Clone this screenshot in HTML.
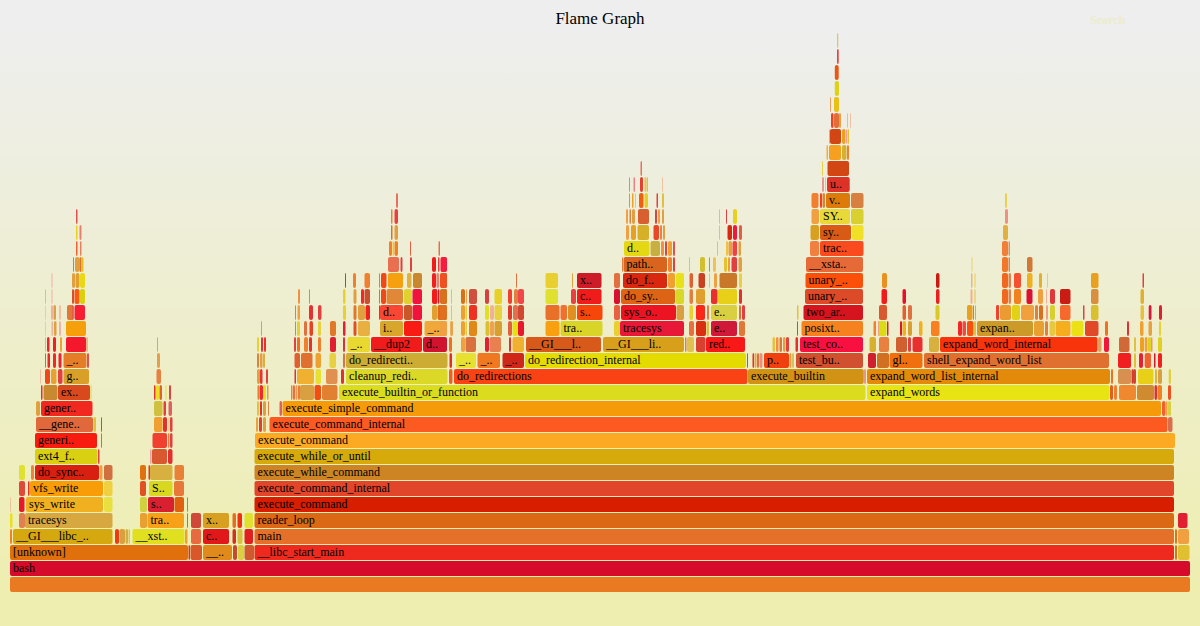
<!DOCTYPE html><html><head><meta charset="utf-8"><style>
html,body{margin:0;padding:0;width:1200px;height:626px;overflow:hidden;background:#eeeeee}
svg{display:block}
text{font-family:"Liberation Serif",serif;font-size:12px;fill:#000}
</style></head><body>
<svg width="1200" height="626" viewBox="0 0 1200 626">
<defs><linearGradient id="bg" y1="0" y2="1" x1="0" x2="0"><stop stop-color="#eeeeee" offset="5%"/><stop stop-color="#eeeeb0" offset="95%"/></linearGradient></defs>
<rect x="0" y="0" width="1200" height="626" fill="url(#bg)"/>
<text x="600" y="24" text-anchor="middle" style="font-size:17px">Flame Graph</text>
<text x="1090" y="24" style="fill:#ececcc;font-size:12px;font-weight:bold">Search</text>

<rect x="10" y="577" width="1180.00" height="15" rx="2" fill="#ea7a22"/>
<rect x="10" y="561" width="1180.00" height="15" rx="2" fill="#d60a2a"/>
<text x="13" y="571.5">bash</text>
<rect x="10" y="545" width="178.00" height="15" rx="2" fill="#e0700c"/>
<text x="13" y="555.5">[unknown]</text>
<rect x="188.5" y="545" width="1.50" height="15" rx="2" fill="#e03020"/>
<rect x="190.5" y="545" width="11.50" height="15" rx="2" fill="#d8582c"/>
<rect x="203" y="545" width="29.00" height="15" rx="2" fill="#e08a1c"/>
<text x="206" y="555.5">__..</text>
<rect x="233" y="545" width="4.00" height="15" rx="2" fill="#c84830"/>
<rect x="238" y="545" width="6.00" height="15" rx="2" fill="#d8d040"/>
<rect x="244.5" y="545" width="9.50" height="15" rx="2" fill="#d05a30"/>
<rect x="254.5" y="545" width="919.50" height="15" rx="2" fill="#ee2a1e"/>
<text x="257.5" y="555.5">__libc_start_main</text>
<rect x="1175" y="545" width="2.00" height="15" rx="2" fill="#e07020"/>
<rect x="1178" y="545" width="11.50" height="15" rx="2" fill="#e0c030"/>
<rect x="10" y="529" width="2.00" height="15" rx="2" fill="#f08020"/>
<rect x="13" y="529" width="99.50" height="15" rx="2" fill="#d4a80e"/>
<text x="16" y="539.5">__GI___libc_..</text>
<rect x="115" y="529" width="4.00" height="15" rx="2" fill="#f03a10"/>
<rect x="119.5" y="529" width="5.50" height="15" rx="2" fill="#d8a040"/>
<rect x="125.5" y="529" width="2.50" height="15" rx="2" fill="#d0b040"/>
<rect x="128.5" y="529" width="1.50" height="15" rx="2" fill="#e0c050"/>
<rect x="132.5" y="529" width="52.00" height="15" rx="2" fill="#e0e020"/>
<text x="135.5" y="539.5">__xst..</text>
<rect x="185" y="529" width="2.50" height="15" rx="2" fill="#f0a030"/>
<rect x="191" y="529" width="10.00" height="15" rx="2" fill="#e86a40"/>
<rect x="203" y="529" width="26.00" height="15" rx="2" fill="#e0181a"/>
<text x="206" y="539.5">c..</text>
<rect x="232.5" y="529" width="3.50" height="15" rx="2" fill="#d03020"/>
<rect x="237.5" y="529" width="5.00" height="15" rx="2" fill="#d8c040"/>
<rect x="244.5" y="529" width="8.50" height="15" rx="2" fill="#e02020"/>
<rect x="254.5" y="529" width="919.50" height="15" rx="2" fill="#e4702a"/>
<text x="257.5" y="539.5">main</text>
<rect x="1175" y="529" width="2.00" height="15" rx="2" fill="#e07020"/>
<rect x="1178" y="529" width="11.00" height="15" rx="2" fill="#f0a040"/>
<rect x="10" y="513" width="2.50" height="15" rx="2" fill="#e8e020"/>
<rect x="19" y="513" width="6.00" height="15" rx="2" fill="#e08050"/>
<rect x="25" y="513" width="87.50" height="15" rx="2" fill="#d8a840"/>
<text x="28" y="523.5">tracesys</text>
<rect x="140" y="513" width="7.00" height="15" rx="2" fill="#e8a030"/>
<rect x="147.5" y="513" width="36.50" height="15" rx="2" fill="#f8a018"/>
<text x="150.5" y="523.5">tra..</text>
<rect x="187" y="513" width="1.00" height="15" rx="2" fill="#e06040"/>
<rect x="191" y="513" width="10.00" height="15" rx="2" fill="#d04838"/>
<rect x="203" y="513" width="26.00" height="15" rx="2" fill="#d8a020"/>
<text x="206" y="523.5">x..</text>
<rect x="232.5" y="513" width="3.50" height="15" rx="2" fill="#e07020"/>
<rect x="237.5" y="513" width="4.50" height="15" rx="2" fill="#f03010"/>
<rect x="244.5" y="513" width="8.50" height="15" rx="2" fill="#e0e030"/>
<rect x="254.5" y="513" width="919.50" height="15" rx="2" fill="#da6814"/>
<text x="257.5" y="523.5">reader_loop</text>
<rect x="1178" y="513" width="9.50" height="15" rx="2" fill="#e02030"/>
<rect x="10" y="497" width="1.00" height="15" rx="2" fill="#f0c0a0"/>
<rect x="19" y="497" width="5.50" height="15" rx="2" fill="#e81828"/>
<rect x="26" y="497" width="77.00" height="15" rx="2" fill="#f0b020"/>
<text x="29" y="507.5">sys_write</text>
<rect x="104" y="497" width="8.50" height="15" rx="2" fill="#e8e040"/>
<rect x="140" y="497" width="7.00" height="15" rx="2" fill="#d0d040"/>
<rect x="148" y="497" width="26.00" height="15" rx="2" fill="#d82030"/>
<text x="151" y="507.5">s..</text>
<rect x="174.5" y="497" width="9.50" height="15" rx="2" fill="#e06010"/>
<rect x="187" y="497" width="1.00" height="15" rx="2" fill="#f06060"/>
<rect x="254.5" y="497" width="919.50" height="15" rx="2" fill="#d81e00"/>
<text x="257.5" y="507.5">execute_command</text>
<rect x="19" y="481" width="6.00" height="15" rx="2" fill="#e04838"/>
<rect x="28" y="481" width="1.50" height="15" rx="2" fill="#e03030"/>
<rect x="30" y="481" width="73.00" height="15" rx="2" fill="#f89c08"/>
<text x="33" y="491.5">vfs_write</text>
<rect x="104" y="481" width="8.50" height="15" rx="2" fill="#f0d040"/>
<rect x="140" y="481" width="6.00" height="15" rx="2" fill="#e05020"/>
<rect x="149" y="481" width="23.50" height="15" rx="2" fill="#d8d820"/>
<text x="152" y="491.5">S..</text>
<rect x="174" y="481" width="10.00" height="15" rx="2" fill="#e87838"/>
<rect x="254.5" y="481" width="919.50" height="15" rx="2" fill="#e2462a"/>
<text x="257.5" y="491.5">execute_command_internal</text>
<rect x="19" y="465" width="6.00" height="15" rx="2" fill="#e0e030"/>
<rect x="31" y="465" width="3.00" height="15" rx="2" fill="#f08040"/>
<rect x="35" y="465" width="64.00" height="15" rx="2" fill="#d82010"/>
<text x="38" y="475.5">do_sync..</text>
<rect x="99.5" y="465" width="3.00" height="15" rx="2" fill="#f0a040"/>
<rect x="104" y="465" width="8.50" height="15" rx="2" fill="#d07040"/>
<rect x="140" y="465" width="6.00" height="15" rx="2" fill="#e07010"/>
<rect x="148.5" y="465" width="1.50" height="15" rx="2" fill="#e03030"/>
<rect x="150" y="465" width="22.50" height="15" rx="2" fill="#d8b040"/>
<rect x="174.5" y="465" width="9.50" height="15" rx="2" fill="#e88038"/>
<rect x="254.5" y="465" width="919.50" height="15" rx="2" fill="#cd8524"/>
<text x="257.5" y="475.5">execute_while_command</text>
<rect x="35" y="449" width="62.50" height="15" rx="2" fill="#d8d010"/>
<text x="38" y="459.5">ext4_f..</text>
<rect x="98" y="449" width="1.50" height="15" rx="2" fill="#e04040"/>
<rect x="150" y="449" width="1.50" height="15" rx="2" fill="#f0a0a0"/>
<rect x="152" y="449" width="15.00" height="15" rx="2" fill="#d85830"/>
<rect x="168" y="449" width="4.50" height="15" rx="2" fill="#e03030"/>
<rect x="254.5" y="449" width="919.50" height="15" rx="2" fill="#d5aa0a"/>
<text x="257.5" y="459.5">execute_while_or_until</text>
<rect x="35" y="433" width="62.00" height="15" rx="2" fill="#f81c10"/>
<text x="38" y="443.5">generi..</text>
<rect x="101" y="433" width="1.00" height="15" rx="2" fill="#e06060"/>
<rect x="152.5" y="433" width="14.50" height="15" rx="2" fill="#f04030"/>
<rect x="168" y="433" width="1.50" height="15" rx="2" fill="#e08040"/>
<rect x="170" y="433" width="2.50" height="15" rx="2" fill="#e04040"/>
<rect x="255" y="433" width="920.00" height="15" rx="2" fill="#fcaa24"/>
<text x="258" y="443.5">execute_command</text>
<rect x="36" y="417" width="57.00" height="15" rx="2" fill="#e0683a"/>
<text x="39" y="427.5">__gene..</text>
<rect x="93.5" y="417" width="2.50" height="15" rx="2" fill="#e0c040"/>
<rect x="101" y="417" width="1.00" height="15" rx="2" fill="#e04040"/>
<rect x="154" y="417" width="8.50" height="15" rx="2" fill="#f0a030"/>
<rect x="163" y="417" width="4.00" height="15" rx="2" fill="#e03030"/>
<rect x="168.5" y="417" width="1.00" height="15" rx="2" fill="#e0c060"/>
<rect x="170" y="417" width="2.50" height="15" rx="2" fill="#e04040"/>
<rect x="256" y="417" width="2.00" height="15" rx="2" fill="#e8a040"/>
<rect x="259" y="417" width="3.00" height="15" rx="2" fill="#e04030"/>
<rect x="263" y="417" width="3.00" height="15" rx="2" fill="#e0a040"/>
<rect x="269.5" y="417" width="898.00" height="15" rx="2" fill="#fd5a22"/>
<text x="272.5" y="427.5">execute_command_internal</text>
<rect x="1168" y="417" width="4.50" height="15" rx="2" fill="#d87050"/>
<rect x="36" y="401" width="4.00" height="15" rx="2" fill="#e0a040"/>
<rect x="41" y="401" width="51.50" height="15" rx="2" fill="#f02820"/>
<text x="44" y="411.5">gener..</text>
<rect x="154" y="401" width="8.50" height="15" rx="2" fill="#d0c040"/>
<rect x="163.5" y="401" width="2.50" height="15" rx="2" fill="#e04040"/>
<rect x="168.5" y="401" width="3.50" height="15" rx="2" fill="#e06060"/>
<rect x="257" y="401" width="2.00" height="15" rx="2" fill="#e8c040"/>
<rect x="260" y="401" width="2.00" height="15" rx="2" fill="#e03030"/>
<rect x="263" y="401" width="3.00" height="15" rx="2" fill="#d8a040"/>
<rect x="268" y="401" width="1.00" height="15" rx="2" fill="#e08040"/>
<rect x="279.5" y="401" width="2.50" height="15" rx="2" fill="#e06060"/>
<rect x="282.5" y="401" width="878.50" height="15" rx="2" fill="#f59b0a"/>
<text x="285.5" y="411.5">execute_simple_command</text>
<rect x="1162" y="401" width="3.50" height="15" rx="2" fill="#f06030"/>
<rect x="1166" y="401" width="1.50" height="15" rx="2" fill="#f0a040"/>
<rect x="1168" y="401" width="3.00" height="15" rx="2" fill="#d8d040"/>
<rect x="291" y="385" width="1.50" height="15" rx="2" fill="#f08040"/>
<rect x="293" y="385" width="2.00" height="15" rx="2" fill="#e87040"/>
<rect x="295.5" y="385" width="2.00" height="15" rx="2" fill="#e0a050"/>
<rect x="298" y="385" width="2.00" height="15" rx="2" fill="#f07838"/>
<rect x="300" y="385" width="14.00" height="15" rx="2" fill="#d8a040"/>
<rect x="314.5" y="385" width="6.50" height="15" rx="2" fill="#f05010"/>
<rect x="322" y="385" width="15.50" height="15" rx="2" fill="#e08030"/>
<rect x="339" y="385" width="526.50" height="15" rx="2" fill="#dcdc1e"/>
<text x="342" y="395.5">execute_builtin_or_function</text>
<rect x="867" y="385" width="242.50" height="15" rx="2" fill="#e8e414"/>
<text x="870" y="395.5">expand_words</text>
<rect x="1110" y="385" width="3.00" height="15" rx="2" fill="#e06020"/>
<rect x="1114" y="385" width="3.00" height="15" rx="2" fill="#f08030"/>
<rect x="1119" y="385" width="17.00" height="15" rx="2" fill="#f08830"/>
<rect x="1137" y="385" width="17.00" height="15" rx="2" fill="#d08a30"/>
<rect x="1154.5" y="385" width="2.50" height="15" rx="2" fill="#e03030"/>
<rect x="1157.5" y="385" width="4.50" height="15" rx="2" fill="#f08020"/>
<rect x="1168" y="385" width="3.00" height="15" rx="2" fill="#f05020"/>
<rect x="257" y="369" width="3.00" height="15" rx="2" fill="#e0a040"/>
<rect x="260" y="369" width="2.50" height="15" rx="2" fill="#e83030"/>
<rect x="266" y="369" width="2.00" height="15" rx="2" fill="#e04040"/>
<rect x="294.5" y="369" width="1.50" height="15" rx="2" fill="#e03030"/>
<rect x="297" y="369" width="17.00" height="15" rx="2" fill="#f0b030"/>
<rect x="315.5" y="369" width="5.50" height="15" rx="2" fill="#e8e030"/>
<rect x="326" y="369" width="11.50" height="15" rx="2" fill="#e09050"/>
<rect x="341" y="369" width="3.00" height="15" rx="2" fill="#e03030"/>
<rect x="346" y="369" width="101.50" height="15" rx="2" fill="#dcd828"/>
<text x="349" y="379.5">cleanup_redi..</text>
<rect x="449" y="369" width="3.50" height="15" rx="2" fill="#f06020"/>
<rect x="454" y="369" width="293.50" height="15" rx="2" fill="#fa4314"/>
<text x="457" y="379.5">do_redirections</text>
<rect x="748" y="369" width="115.75" height="15" rx="2" fill="#d29214"/>
<text x="751" y="379.5">execute_builtin</text>
<rect x="864.5" y="369" width="1.00" height="15" rx="2" fill="#e04040"/>
<rect x="867" y="369" width="243.00" height="15" rx="2" fill="#e48a0a"/>
<text x="870" y="379.5">expand_word_list_internal</text>
<rect x="1111" y="369" width="2.00" height="15" rx="2" fill="#f07020"/>
<rect x="1118" y="369" width="13.00" height="15" rx="2" fill="#d89050"/>
<rect x="1131.5" y="369" width="1.50" height="15" rx="2" fill="#e03030"/>
<rect x="1133" y="369" width="3.00" height="15" rx="2" fill="#c84828"/>
<rect x="1138" y="369" width="15.50" height="15" rx="2" fill="#e8d018"/>
<rect x="1155" y="369" width="2.00" height="15" rx="2" fill="#e0b040"/>
<rect x="1158" y="369" width="4.00" height="15" rx="2" fill="#d8a040"/>
<rect x="1168.7" y="369" width="2.30" height="15" rx="2" fill="#e0d040"/>
<rect x="257" y="353" width="2.00" height="15" rx="2" fill="#e08040"/>
<rect x="260" y="353" width="2.50" height="15" rx="2" fill="#e0a040"/>
<rect x="263" y="353" width="2.00" height="15" rx="2" fill="#d8b040"/>
<rect x="294.5" y="353" width="5.50" height="15" rx="2" fill="#e06030"/>
<rect x="301" y="353" width="11.50" height="15" rx="2" fill="#e07030"/>
<rect x="315.5" y="353" width="5.50" height="15" rx="2" fill="#f0a030"/>
<rect x="329.5" y="353" width="6.50" height="15" rx="2" fill="#e8d040"/>
<rect x="343" y="353" width="2.00" height="15" rx="2" fill="#e07040"/>
<rect x="346" y="353" width="101.50" height="15" rx="2" fill="#ccac32"/>
<text x="349" y="363.5">do_redirecti..</text>
<rect x="449.5" y="353" width="2.50" height="15" rx="2" fill="#e03020"/>
<rect x="456" y="353" width="20.00" height="15" rx="2" fill="#e8e030"/>
<text x="459" y="363.5">_..</text>
<rect x="477.5" y="353" width="22.50" height="15" rx="2" fill="#f07820"/>
<text x="480.5" y="363.5">_..</text>
<rect x="502.5" y="353" width="21.50" height="15" rx="2" fill="#d02818"/>
<text x="505.5" y="363.5">_..</text>
<rect x="525" y="353" width="221.00" height="15" rx="2" fill="#e4dc00"/>
<text x="528" y="363.5">do_redirection_internal</text>
<rect x="747" y="353" width="1.00" height="15" rx="2" fill="#e04040"/>
<rect x="752.5" y="353" width="1.50" height="15" rx="2" fill="#e03030"/>
<rect x="754.5" y="353" width="2.00" height="15" rx="2" fill="#f0a040"/>
<rect x="757" y="353" width="2.00" height="15" rx="2" fill="#e07040"/>
<rect x="759.5" y="353" width="3.00" height="15" rx="2" fill="#e89080"/>
<rect x="764" y="353" width="25.00" height="15" rx="2" fill="#f04010"/>
<text x="767" y="363.5">p..</text>
<rect x="789.5" y="353" width="2.00" height="15" rx="2" fill="#e0a040"/>
<rect x="792" y="353" width="2.00" height="15" rx="2" fill="#d8c060"/>
<rect x="796" y="353" width="67.00" height="15" rx="2" fill="#d05030"/>
<text x="799" y="363.5">test_bu..</text>
<rect x="868" y="353" width="8.00" height="15" rx="2" fill="#d02030"/>
<rect x="877" y="353" width="12.00" height="15" rx="2" fill="#d07020"/>
<rect x="889.5" y="353" width="33.00" height="15" rx="2" fill="#f07010"/>
<text x="892.5" y="363.5">gl..</text>
<rect x="924" y="353" width="185.00" height="15" rx="2" fill="#e07030"/>
<text x="927" y="363.5">shell_expand_word_list</text>
<rect x="1118" y="353" width="13.00" height="15" rx="2" fill="#f02020"/>
<rect x="1134" y="353" width="2.00" height="15" rx="2" fill="#e0c030"/>
<rect x="1139" y="353" width="4.00" height="15" rx="2" fill="#e82030"/>
<rect x="1144.7" y="353" width="6.30" height="15" rx="2" fill="#f06030"/>
<rect x="1154" y="353" width="1.50" height="15" rx="2" fill="#d01830"/>
<rect x="1158" y="353" width="4.00" height="15" rx="2" fill="#f02020"/>
<rect x="257" y="337" width="2.00" height="15" rx="2" fill="#e8d030"/>
<rect x="261" y="337" width="2.00" height="15" rx="2" fill="#e83030"/>
<rect x="264" y="337" width="2.00" height="15" rx="2" fill="#e83030"/>
<rect x="294" y="337" width="2.00" height="15" rx="2" fill="#e04040"/>
<rect x="297" y="337" width="3.00" height="15" rx="2" fill="#f07020"/>
<rect x="304" y="337" width="4.00" height="15" rx="2" fill="#f08030"/>
<rect x="309" y="337" width="3.00" height="15" rx="2" fill="#e83030"/>
<rect x="318" y="337" width="3.00" height="15" rx="2" fill="#f08030"/>
<rect x="330" y="337" width="6.00" height="15" rx="2" fill="#e02030"/>
<rect x="343" y="337" width="2.00" height="15" rx="2" fill="#e03030"/>
<rect x="347.5" y="337" width="22.50" height="15" rx="2" fill="#e8d830"/>
<text x="350.5" y="347.5">_..</text>
<rect x="371" y="337" width="51.00" height="15" rx="2" fill="#f01c1c"/>
<text x="374" y="347.5">__dup2</text>
<rect x="423" y="337" width="24.00" height="15" rx="2" fill="#d01430"/>
<text x="426" y="347.5">d..</text>
<rect x="449" y="337" width="3.00" height="15" rx="2" fill="#f07020"/>
<rect x="461" y="337" width="4.00" height="15" rx="2" fill="#f0a040"/>
<rect x="465.5" y="337" width="10.50" height="15" rx="2" fill="#d87040"/>
<rect x="485" y="337" width="4.00" height="15" rx="2" fill="#e02030"/>
<rect x="489.5" y="337" width="11.50" height="15" rx="2" fill="#e88050"/>
<rect x="509" y="337" width="2.00" height="15" rx="2" fill="#e03030"/>
<rect x="512.5" y="337" width="11.50" height="15" rx="2" fill="#f0b030"/>
<rect x="526" y="337" width="75.00" height="15" rx="2" fill="#d85a1a"/>
<text x="529" y="347.5">__GI___l..</text>
<rect x="603" y="337" width="81.00" height="15" rx="2" fill="#d8a01a"/>
<text x="606" y="347.5">__GI___li..</text>
<rect x="685" y="337" width="1.50" height="15" rx="2" fill="#e08040"/>
<rect x="687" y="337" width="7.00" height="15" rx="2" fill="#e0c050"/>
<rect x="696" y="337" width="9.50" height="15" rx="2" fill="#d84030"/>
<rect x="706" y="337" width="39.00" height="15" rx="2" fill="#f81818"/>
<text x="709" y="347.5">red..</text>
<rect x="772.5" y="337" width="2.50" height="15" rx="2" fill="#e8c040"/>
<rect x="776" y="337" width="2.50" height="15" rx="2" fill="#f09040"/>
<rect x="779.5" y="337" width="2.50" height="15" rx="2" fill="#d87838"/>
<rect x="783" y="337" width="2.50" height="15" rx="2" fill="#e0a040"/>
<rect x="786" y="337" width="3.00" height="15" rx="2" fill="#e04040"/>
<rect x="795.5" y="337" width="2.50" height="15" rx="2" fill="#e03030"/>
<rect x="800" y="337" width="63.00" height="15" rx="2" fill="#f81040"/>
<text x="803" y="347.5">test_co..</text>
<rect x="869.5" y="337" width="6.50" height="15" rx="2" fill="#d8b030"/>
<rect x="879" y="337" width="10.00" height="15" rx="2" fill="#e88040"/>
<rect x="896" y="337" width="11.00" height="15" rx="2" fill="#d06030"/>
<rect x="908" y="337" width="3.00" height="15" rx="2" fill="#e04040"/>
<rect x="912.5" y="337" width="10.00" height="15" rx="2" fill="#e83030"/>
<rect x="929" y="337" width="10.00" height="15" rx="2" fill="#d8b040"/>
<rect x="940" y="337" width="157.50" height="15" rx="2" fill="#f8340c"/>
<text x="943" y="347.5">expand_word_internal</text>
<rect x="1098" y="337" width="3.50" height="15" rx="2" fill="#e0a060"/>
<rect x="1104" y="337" width="5.00" height="15" rx="2" fill="#f01838"/>
<rect x="1119" y="337" width="10.50" height="15" rx="2" fill="#d06838"/>
<rect x="1134" y="337" width="2.00" height="15" rx="2" fill="#e0c040"/>
<rect x="1140" y="337" width="4.00" height="15" rx="2" fill="#f0a020"/>
<rect x="1144.7" y="337" width="2.80" height="15" rx="2" fill="#f0a040"/>
<rect x="1148" y="337" width="3.00" height="15" rx="2" fill="#e0d020"/>
<rect x="1151" y="337" width="1.50" height="15" rx="2" fill="#f09080"/>
<rect x="1158" y="337" width="4.00" height="15" rx="2" fill="#e0d020"/>
<rect x="41" y="385" width="1.50" height="15" rx="2" fill="#e03030"/>
<rect x="43.5" y="385" width="14.00" height="15" rx="2" fill="#c88a30"/>
<rect x="58" y="385" width="32.00" height="15" rx="2" fill="#d84a1e"/>
<text x="61" y="395.5">ex..</text>
<rect x="90.5" y="385" width="1.00" height="15" rx="2" fill="#e8d040"/>
<rect x="156" y="385" width="3.00" height="15" rx="2" fill="#e8e020"/>
<rect x="154" y="385" width="1.50" height="15" rx="2" fill="#e03030"/>
<rect x="159.5" y="385" width="2.50" height="15" rx="2" fill="#e06030"/>
<rect x="165.5" y="385" width="1.00" height="15" rx="2" fill="#e8e040"/>
<rect x="169" y="385" width="2.00" height="15" rx="2" fill="#e04040"/>
<rect x="40" y="369" width="1.00" height="15" rx="2" fill="#f0c0a0"/>
<rect x="45" y="369" width="5.00" height="15" rx="2" fill="#f04818"/>
<rect x="51" y="369" width="5.50" height="15" rx="2" fill="#e8a030"/>
<rect x="58" y="369" width="4.50" height="15" rx="2" fill="#e04040"/>
<rect x="63.5" y="369" width="25.50" height="15" rx="2" fill="#d8a028"/>
<text x="66.5" y="379.5">g..</text>
<rect x="156.5" y="369" width="4.50" height="15" rx="2" fill="#e88040"/>
<rect x="45" y="353" width="1.00" height="15" rx="2" fill="#e06040"/>
<rect x="47.5" y="353" width="2.50" height="15" rx="2" fill="#e82828"/>
<rect x="53" y="353" width="3.00" height="15" rx="2" fill="#f02828"/>
<rect x="58.5" y="353" width="3.00" height="15" rx="2" fill="#f02030"/>
<rect x="63.5" y="353" width="23.00" height="15" rx="2" fill="#e47c28"/>
<text x="66.5" y="363.5">_..</text>
<rect x="87" y="353" width="2.00" height="15" rx="2" fill="#e05050"/>
<rect x="157" y="353" width="3.00" height="15" rx="2" fill="#e0a050"/>
<rect x="45" y="337" width="1.00" height="15" rx="2" fill="#e8c040"/>
<rect x="47" y="337" width="2.50" height="15" rx="2" fill="#e82828"/>
<rect x="53" y="337" width="3.00" height="15" rx="2" fill="#f02020"/>
<rect x="60" y="337" width="2.00" height="15" rx="2" fill="#f0a030"/>
<rect x="66" y="337" width="20.00" height="15" rx="2" fill="#f4182c"/>
<rect x="86.5" y="337" width="1.00" height="15" rx="2" fill="#e08040"/>
<rect x="157" y="337" width="1.00" height="15" rx="2" fill="#e8a060"/>
<rect x="45" y="321" width="0.50" height="15" rx="2" fill="#f0a0a0"/>
<rect x="51.5" y="321" width="1.50" height="15" rx="2" fill="#f0b0a0"/>
<rect x="54" y="321" width="2.50" height="15" rx="2" fill="#e0a040"/>
<rect x="59" y="321" width="2.00" height="15" rx="2" fill="#f0b0b0"/>
<rect x="66" y="321" width="20.00" height="15" rx="2" fill="#f5a00a"/>
<rect x="45" y="305" width="0.50" height="15" rx="2" fill="#f0a0a0"/>
<rect x="51" y="305" width="2.00" height="15" rx="2" fill="#f0b0a0"/>
<rect x="53.5" y="305" width="2.50" height="15" rx="2" fill="#d8a040"/>
<rect x="59" y="305" width="2.00" height="15" rx="2" fill="#f0c0a0"/>
<rect x="67" y="305" width="7.00" height="15" rx="2" fill="#e07838"/>
<rect x="74.5" y="305" width="10.50" height="15" rx="2" fill="#f81e34"/>
<rect x="72" y="305" width="1.00" height="15" rx="2" fill="#e06040"/>
<rect x="45" y="289" width="0.80" height="15" rx="2" fill="#f0a0a0"/>
<rect x="51.5" y="289" width="1.00" height="15" rx="2" fill="#f0b0a0"/>
<rect x="72" y="289" width="2.00" height="15" rx="2" fill="#d05030"/>
<rect x="74.5" y="289" width="5.00" height="15" rx="2" fill="#fa5a14"/>
<rect x="80" y="289" width="5.00" height="15" rx="2" fill="#d8d010"/>
<rect x="51.5" y="273" width="1.00" height="15" rx="2" fill="#f0b0a0"/>
<rect x="72" y="273" width="3.00" height="15" rx="2" fill="#e0a040"/>
<rect x="75.5" y="273" width="4.00" height="15" rx="2" fill="#e0a030"/>
<rect x="80" y="273" width="5.00" height="15" rx="2" fill="#e8d818"/>
<rect x="73" y="257" width="1.00" height="15" rx="2" fill="#e07050"/>
<rect x="75" y="257" width="4.50" height="15" rx="2" fill="#e0a040"/>
<rect x="79.5" y="257" width="2.00" height="15" rx="2" fill="#e07030"/>
<rect x="81.5" y="257" width="2.00" height="15" rx="2" fill="#e8c020"/>
<rect x="76" y="241" width="1.50" height="15" rx="2" fill="#f06030"/>
<rect x="80" y="241" width="1.50" height="15" rx="2" fill="#e88060"/>
<rect x="76" y="225" width="1.50" height="15" rx="2" fill="#e8d020"/>
<rect x="79.5" y="225" width="2.00" height="15" rx="2" fill="#e88070"/>
<rect x="76" y="209" width="1.50" height="15" rx="2" fill="#e05050"/>
<rect x="257.5" y="385" width="1.50" height="15" rx="2" fill="#e08030"/>
<rect x="259.5" y="385" width="3.50" height="15" rx="2" fill="#f02830"/>
<rect x="263" y="385" width="3.00" height="15" rx="2" fill="#e8e020"/>
<rect x="267" y="385" width="1.50" height="15" rx="2" fill="#e0a040"/>
<rect x="261" y="321" width="1.00" height="15" rx="2" fill="#e0a040"/>
<rect x="295" y="321" width="1.00" height="15" rx="2" fill="#e08040"/>
<rect x="297" y="321" width="3.00" height="15" rx="2" fill="#e8d030"/>
<rect x="304" y="321" width="3.00" height="15" rx="2" fill="#e07040"/>
<rect x="309.5" y="321" width="3.50" height="15" rx="2" fill="#e84020"/>
<rect x="318" y="321" width="3.00" height="15" rx="2" fill="#e8d040"/>
<rect x="330" y="321" width="6.00" height="15" rx="2" fill="#e07828"/>
<rect x="343" y="321" width="2.50" height="15" rx="2" fill="#e02030"/>
<rect x="353.5" y="321" width="3.00" height="15" rx="2" fill="#e05020"/>
<rect x="358" y="321" width="12.00" height="15" rx="2" fill="#e8b040"/>
<rect x="380" y="321" width="23.00" height="15" rx="2" fill="#d8a62a"/>
<text x="383" y="331.5">i..</text>
<rect x="404" y="321" width="18.00" height="15" rx="2" fill="#f81c14"/>
<rect x="424.5" y="321" width="22.50" height="15" rx="2" fill="#f0a83a"/>
<text x="427.5" y="331.5">_..</text>
<rect x="450" y="321" width="2.50" height="15" rx="2" fill="#f0c060"/>
<rect x="295" y="305" width="1.00" height="15" rx="2" fill="#e08040"/>
<rect x="297.5" y="305" width="2.50" height="15" rx="2" fill="#f0a040"/>
<rect x="309" y="305" width="4.00" height="15" rx="2" fill="#e83030"/>
<rect x="318" y="305" width="3.50" height="15" rx="2" fill="#e04040"/>
<rect x="343" y="305" width="3.00" height="15" rx="2" fill="#e8d030"/>
<rect x="353.5" y="305" width="3.00" height="15" rx="2" fill="#e07828"/>
<rect x="358" y="305" width="7.00" height="15" rx="2" fill="#e0a040"/>
<rect x="365.5" y="305" width="4.50" height="15" rx="2" fill="#f02020"/>
<rect x="379" y="305" width="1.00" height="15" rx="2" fill="#e03030"/>
<rect x="380" y="305" width="23.00" height="15" rx="2" fill="#fa4632"/>
<text x="383" y="315.5">d..</text>
<rect x="404" y="305" width="8.00" height="15" rx="2" fill="#c85828"/>
<rect x="412.5" y="305" width="9.50" height="15" rx="2" fill="#f0143c"/>
<rect x="432" y="305" width="5.00" height="15" rx="2" fill="#e0a030"/>
<rect x="437.5" y="305" width="9.50" height="15" rx="2" fill="#e06818"/>
<rect x="451" y="305" width="1.00" height="15" rx="2" fill="#f0c080"/>
<rect x="298" y="289" width="2.00" height="15" rx="2" fill="#f09040"/>
<rect x="309" y="289" width="1.00" height="15" rx="2" fill="#f08040"/>
<rect x="343" y="289" width="2.50" height="15" rx="2" fill="#e8d030"/>
<rect x="353.5" y="289" width="3.00" height="15" rx="2" fill="#e0a040"/>
<rect x="361" y="289" width="3.00" height="15" rx="2" fill="#f02828"/>
<rect x="364.5" y="289" width="5.50" height="15" rx="2" fill="#c85030"/>
<rect x="379" y="289" width="1.00" height="15" rx="2" fill="#e07030"/>
<rect x="381" y="289" width="5.00" height="15" rx="2" fill="#f04818"/>
<rect x="386.5" y="289" width="16.50" height="15" rx="2" fill="#e08838"/>
<rect x="404" y="289" width="8.00" height="15" rx="2" fill="#e0d030"/>
<rect x="412.5" y="289" width="9.50" height="15" rx="2" fill="#f0143c"/>
<rect x="432" y="289" width="5.50" height="15" rx="2" fill="#f01c1c"/>
<rect x="438" y="289" width="1.50" height="15" rx="2" fill="#c02030"/>
<rect x="440.5" y="289" width="6.50" height="15" rx="2" fill="#e06818"/>
<rect x="345" y="273" width="1.00" height="15" rx="2" fill="#e03030"/>
<rect x="353" y="273" width="3.00" height="15" rx="2" fill="#f08030"/>
<rect x="364.5" y="273" width="5.50" height="15" rx="2" fill="#f08030"/>
<rect x="379" y="273" width="1.00" height="15" rx="2" fill="#e08030"/>
<rect x="381" y="273" width="5.50" height="15" rx="2" fill="#f04818"/>
<rect x="388" y="273" width="15.00" height="15" rx="2" fill="#f5a00f"/>
<rect x="407" y="273" width="4.50" height="15" rx="2" fill="#e0b040"/>
<rect x="413" y="273" width="9.00" height="15" rx="2" fill="#c88830"/>
<rect x="432" y="273" width="4.00" height="15" rx="2" fill="#f02020"/>
<rect x="436.5" y="273" width="2.50" height="15" rx="2" fill="#f08070"/>
<rect x="440.5" y="273" width="6.50" height="15" rx="2" fill="#e84830"/>
<rect x="388" y="257" width="11.00" height="15" rx="2" fill="#e87050"/>
<rect x="400.5" y="257" width="2.00" height="15" rx="2" fill="#e04040"/>
<rect x="410" y="257" width="2.00" height="15" rx="2" fill="#e04040"/>
<rect x="432" y="257" width="4.00" height="15" rx="2" fill="#f01c1c"/>
<rect x="438" y="257" width="1.50" height="15" rx="2" fill="#e04040"/>
<rect x="440.5" y="257" width="6.50" height="15" rx="2" fill="#f0183c"/>
<rect x="389" y="241" width="3.00" height="15" rx="2" fill="#f08030"/>
<rect x="394.5" y="241" width="3.50" height="15" rx="2" fill="#f08020"/>
<rect x="392.5" y="241" width="1.50" height="15" rx="2" fill="#e8d020"/>
<rect x="410" y="241" width="1.00" height="15" rx="2" fill="#e06040"/>
<rect x="438.5" y="241" width="1.50" height="15" rx="2" fill="#e07050"/>
<rect x="391" y="225" width="1.50" height="15" rx="2" fill="#e07020"/>
<rect x="394.5" y="225" width="3.50" height="15" rx="2" fill="#e0a040"/>
<rect x="391" y="209" width="1.50" height="15" rx="2" fill="#f08030"/>
<rect x="394.5" y="209" width="3.50" height="15" rx="2" fill="#e84040"/>
<rect x="396" y="193" width="2.00" height="15" rx="2" fill="#e87060"/>
<rect x="440" y="321" width="7.00" height="15" rx="2" fill="#f0a040"/>
<rect x="450.5" y="321" width="2.50" height="15" rx="2" fill="#e8a050"/>
<rect x="461" y="321" width="4.00" height="15" rx="2" fill="#f0a030"/>
<rect x="465.5" y="321" width="1.50" height="15" rx="2" fill="#e0d040"/>
<rect x="469" y="321" width="8.00" height="15" rx="2" fill="#e08818"/>
<rect x="485.5" y="321" width="4.00" height="15" rx="2" fill="#d8c030"/>
<rect x="490" y="321" width="4.00" height="15" rx="2" fill="#f0a050"/>
<rect x="494.5" y="321" width="7.50" height="15" rx="2" fill="#d8a030"/>
<rect x="508" y="321" width="4.00" height="15" rx="2" fill="#e06040"/>
<rect x="512.5" y="321" width="5.50" height="15" rx="2" fill="#e8e010"/>
<rect x="518" y="321" width="6.00" height="15" rx="2" fill="#e81830"/>
<rect x="545.5" y="321" width="14.00" height="15" rx="2" fill="#f8a010"/>
<rect x="560.5" y="321" width="42.00" height="15" rx="2" fill="#d8d428"/>
<text x="563.5" y="331.5">tra..</text>
<rect x="614" y="321" width="6.00" height="15" rx="2" fill="#e8d030"/>
<rect x="440" y="305" width="7.00" height="15" rx="2" fill="#e07020"/>
<rect x="451" y="305" width="1.00" height="15" rx="2" fill="#f0b0a0"/>
<rect x="461" y="305" width="4.00" height="15" rx="2" fill="#f0a030"/>
<rect x="465.5" y="305" width="1.50" height="15" rx="2" fill="#e0d040"/>
<rect x="469" y="305" width="8.00" height="15" rx="2" fill="#f03020"/>
<rect x="485" y="305" width="4.00" height="15" rx="2" fill="#e0e020"/>
<rect x="490" y="305" width="4.00" height="15" rx="2" fill="#f0b0a0"/>
<rect x="494.5" y="305" width="7.50" height="15" rx="2" fill="#e8d040"/>
<rect x="508" y="305" width="4.00" height="15" rx="2" fill="#e03828"/>
<rect x="513" y="305" width="5.00" height="15" rx="2" fill="#e07050"/>
<rect x="518" y="305" width="6.00" height="15" rx="2" fill="#d04830"/>
<rect x="545.5" y="305" width="14.00" height="15" rx="2" fill="#e87028"/>
<rect x="560.5" y="305" width="6.50" height="15" rx="2" fill="#f07030"/>
<rect x="568" y="305" width="8.00" height="15" rx="2" fill="#e09020"/>
<rect x="577" y="305" width="25.50" height="15" rx="2" fill="#f6460a"/>
<text x="580" y="315.5">s..</text>
<rect x="614" y="305" width="6.00" height="15" rx="2" fill="#e86040"/>
<rect x="440" y="289" width="7.00" height="15" rx="2" fill="#d87020"/>
<rect x="451" y="289" width="1.00" height="15" rx="2" fill="#f0b0a0"/>
<rect x="461" y="289" width="4.00" height="15" rx="2" fill="#d87018"/>
<rect x="466" y="289" width="1.00" height="15" rx="2" fill="#f0a050"/>
<rect x="469" y="289" width="8.00" height="15" rx="2" fill="#d05040"/>
<rect x="485" y="289" width="4.00" height="15" rx="2" fill="#d84040"/>
<rect x="494.5" y="289" width="7.50" height="15" rx="2" fill="#e8d028"/>
<rect x="508" y="289" width="4.00" height="15" rx="2" fill="#f04030"/>
<rect x="514" y="289" width="4.00" height="15" rx="2" fill="#e08040"/>
<rect x="518" y="289" width="6.00" height="15" rx="2" fill="#f04848"/>
<rect x="545.5" y="289" width="12.50" height="15" rx="2" fill="#e0e030"/>
<rect x="571" y="289" width="5.00" height="15" rx="2" fill="#e84040"/>
<rect x="577" y="289" width="24.50" height="15" rx="2" fill="#f01c1c"/>
<text x="580" y="299.5">c..</text>
<rect x="614" y="289" width="6.00" height="15" rx="2" fill="#d81030"/>
<rect x="440" y="273" width="7.00" height="15" rx="2" fill="#f05020"/>
<rect x="516" y="273" width="1.00" height="15" rx="2" fill="#e07040"/>
<rect x="545.5" y="273" width="12.50" height="15" rx="2" fill="#e8d030"/>
<rect x="572" y="273" width="1.00" height="15" rx="2" fill="#e0a040"/>
<rect x="577" y="273" width="24.50" height="15" rx="2" fill="#cc1c28"/>
<text x="580" y="283.5">x..</text>
<rect x="614" y="273" width="6.00" height="15" rx="2" fill="#e07040"/>
<rect x="441" y="257" width="5.50" height="15" rx="2" fill="#f81c3c"/>
<rect x="620" y="321" width="64.00" height="15" rx="2" fill="#e81838"/>
<text x="623" y="331.5">tracesys</text>
<rect x="689" y="321" width="5.00" height="15" rx="2" fill="#e87040"/>
<rect x="696" y="321" width="10.00" height="15" rx="2" fill="#d83010"/>
<rect x="706.5" y="321" width="2.50" height="15" rx="2" fill="#e0c040"/>
<rect x="711" y="321" width="26.00" height="15" rx="2" fill="#d01838"/>
<text x="714" y="331.5">e..</text>
<rect x="739" y="321" width="6.00" height="15" rx="2" fill="#e07838"/>
<rect x="621" y="305" width="55.00" height="15" rx="2" fill="#ec1422"/>
<text x="624" y="315.5">sys_o..</text>
<rect x="676.5" y="305" width="7.50" height="15" rx="2" fill="#d8a040"/>
<rect x="689.5" y="305" width="3.50" height="15" rx="2" fill="#e8d030"/>
<rect x="696" y="305" width="9.00" height="15" rx="2" fill="#fa2818"/>
<rect x="707" y="305" width="2.00" height="15" rx="2" fill="#e08040"/>
<rect x="711" y="305" width="26.00" height="15" rx="2" fill="#d8d040"/>
<text x="714" y="315.5">e..</text>
<rect x="739" y="305" width="2.00" height="15" rx="2" fill="#e07030"/>
<rect x="742" y="305" width="3.00" height="15" rx="2" fill="#e04040"/>
<rect x="621" y="289" width="54.00" height="15" rx="2" fill="#dc6414"/>
<text x="624" y="299.5">do_sy..</text>
<rect x="675.5" y="289" width="8.50" height="15" rx="2" fill="#d8d828"/>
<rect x="689.5" y="289" width="3.50" height="15" rx="2" fill="#e08040"/>
<rect x="696" y="289" width="9.00" height="15" rx="2" fill="#e0a030"/>
<rect x="711" y="289" width="6.50" height="15" rx="2" fill="#e83030"/>
<rect x="718" y="289" width="19.00" height="15" rx="2" fill="#e8d018"/>
<rect x="739" y="289" width="3.00" height="15" rx="2" fill="#e03030"/>
<rect x="623" y="273" width="44.00" height="15" rx="2" fill="#d82810"/>
<text x="626" y="283.5">do_f..</text>
<rect x="668" y="273" width="7.00" height="15" rx="2" fill="#f0a030"/>
<rect x="676" y="273" width="8.00" height="15" rx="2" fill="#e8e018"/>
<rect x="689.5" y="273" width="3.50" height="15" rx="2" fill="#e06030"/>
<rect x="698.5" y="273" width="6.50" height="15" rx="2" fill="#c84020"/>
<rect x="709" y="273" width="1.00" height="15" rx="2" fill="#f0b0a0"/>
<rect x="714" y="273" width="3.00" height="15" rx="2" fill="#f0a040"/>
<rect x="719.5" y="273" width="17.50" height="15" rx="2" fill="#c87828"/>
<rect x="739" y="273" width="3.00" height="15" rx="2" fill="#e8d040"/>
<rect x="622" y="257" width="1.00" height="15" rx="2" fill="#e08040"/>
<rect x="623.5" y="257" width="43.50" height="15" rx="2" fill="#d8641e"/>
<text x="626.5" y="267.5">path..</text>
<rect x="668" y="257" width="4.00" height="15" rx="2" fill="#f08030"/>
<rect x="673" y="257" width="2.00" height="15" rx="2" fill="#e04040"/>
<rect x="689" y="257" width="1.00" height="15" rx="2" fill="#f0b0a0"/>
<rect x="700" y="257" width="5.00" height="15" rx="2" fill="#d0c030"/>
<rect x="709" y="257" width="1.00" height="15" rx="2" fill="#e08040"/>
<rect x="713" y="257" width="3.00" height="15" rx="2" fill="#f0c060"/>
<rect x="724" y="257" width="3.00" height="15" rx="2" fill="#e8c030"/>
<rect x="728" y="257" width="2.00" height="15" rx="2" fill="#f0a030"/>
<rect x="731.5" y="257" width="5.50" height="15" rx="2" fill="#e04040"/>
<rect x="738.5" y="257" width="3.50" height="15" rx="2" fill="#e0a040"/>
<rect x="624" y="241" width="25.50" height="15" rx="2" fill="#e4d814"/>
<text x="627" y="251.5">d..</text>
<rect x="650.5" y="241" width="9.50" height="15" rx="2" fill="#c8b040"/>
<rect x="661" y="241" width="3.00" height="15" rx="2" fill="#f09040"/>
<rect x="665" y="241" width="2.00" height="15" rx="2" fill="#e04040"/>
<rect x="668" y="241" width="4.00" height="15" rx="2" fill="#f0a030"/>
<rect x="673" y="241" width="2.00" height="15" rx="2" fill="#e05050"/>
<rect x="717" y="241" width="1.00" height="15" rx="2" fill="#f0b0a0"/>
<rect x="726" y="241" width="2.00" height="15" rx="2" fill="#f0c040"/>
<rect x="728.5" y="241" width="3.50" height="15" rx="2" fill="#e8a030"/>
<rect x="732.5" y="241" width="4.50" height="15" rx="2" fill="#f04040"/>
<rect x="738.5" y="241" width="2.50" height="15" rx="2" fill="#e0a040"/>
<rect x="626" y="225" width="3.00" height="15" rx="2" fill="#f0a040"/>
<rect x="631" y="225" width="5.00" height="15" rx="2" fill="#e8a020"/>
<rect x="637.5" y="225" width="11.50" height="15" rx="2" fill="#d8b028"/>
<rect x="653.5" y="225" width="5.50" height="15" rx="2" fill="#e84828"/>
<rect x="660" y="225" width="2.00" height="15" rx="2" fill="#f08040"/>
<rect x="663" y="225" width="2.00" height="15" rx="2" fill="#e0a040"/>
<rect x="719" y="225" width="1.00" height="15" rx="2" fill="#f0b0a0"/>
<rect x="727.5" y="225" width="4.50" height="15" rx="2" fill="#d82810"/>
<rect x="733" y="225" width="4.00" height="15" rx="2" fill="#f01838"/>
<rect x="739" y="225" width="3.00" height="15" rx="2" fill="#e06040"/>
<rect x="626" y="209" width="2.00" height="15" rx="2" fill="#f0a040"/>
<rect x="629.5" y="209" width="1.50" height="15" rx="2" fill="#e08040"/>
<rect x="632" y="209" width="3.00" height="15" rx="2" fill="#e0a040"/>
<rect x="638" y="209" width="11.00" height="15" rx="2" fill="#d86030"/>
<rect x="655" y="209" width="2.00" height="15" rx="2" fill="#e04040"/>
<rect x="658" y="209" width="2.00" height="15" rx="2" fill="#f0a040"/>
<rect x="662" y="209" width="2.00" height="15" rx="2" fill="#e0a040"/>
<rect x="719" y="209" width="1.00" height="15" rx="2" fill="#f0b0a0"/>
<rect x="726" y="209" width="1.00" height="15" rx="2" fill="#e04040"/>
<rect x="733" y="209" width="4.00" height="15" rx="2" fill="#e8d020"/>
<rect x="629" y="193" width="1.00" height="15" rx="2" fill="#f08080"/>
<rect x="632" y="193" width="1.50" height="15" rx="2" fill="#f0a020"/>
<rect x="635" y="193" width="1.00" height="15" rx="2" fill="#e8d040"/>
<rect x="639" y="193" width="4.50" height="15" rx="2" fill="#f06010"/>
<rect x="644.5" y="193" width="3.50" height="15" rx="2" fill="#e8d020"/>
<rect x="656.5" y="193" width="1.50" height="15" rx="2" fill="#e04040"/>
<rect x="662" y="193" width="2.00" height="15" rx="2" fill="#e0c040"/>
<rect x="629" y="177" width="1.00" height="15" rx="2" fill="#f08080"/>
<rect x="633.5" y="177" width="1.50" height="15" rx="2" fill="#f08080"/>
<rect x="640" y="177" width="3.00" height="15" rx="2" fill="#e84030"/>
<rect x="644.5" y="177" width="1.50" height="15" rx="2" fill="#f0c040"/>
<rect x="646.5" y="177" width="1.50" height="15" rx="2" fill="#e8c030"/>
<rect x="662" y="177" width="1.00" height="15" rx="2" fill="#f0c0a0"/>
<rect x="640.5" y="161" width="1.50" height="15" rx="2" fill="#e87060"/>
<rect x="797" y="321" width="1.00" height="15" rx="2" fill="#e04040"/>
<rect x="801.5" y="321" width="61.50" height="15" rx="2" fill="#f5821e"/>
<text x="804.5" y="331.5">posixt..</text>
<rect x="875" y="321" width="1.00" height="15" rx="2" fill="#e08040"/>
<rect x="878" y="321" width="2.00" height="15" rx="2" fill="#e0a040"/>
<rect x="797" y="305" width="1.50" height="15" rx="2" fill="#e0c040"/>
<rect x="803.5" y="305" width="59.50" height="15" rx="2" fill="#d4141e"/>
<text x="806.5" y="315.5">two_ar..</text>
<rect x="805" y="289" width="58.00" height="15" rx="2" fill="#dc4a28"/>
<text x="808" y="299.5">unary_..</text>
<rect x="805.5" y="273" width="57.50" height="15" rx="2" fill="#fa500a"/>
<text x="808.5" y="283.5">unary_..</text>
<rect x="806" y="257" width="57.00" height="15" rx="2" fill="#e66a37"/>
<text x="809" y="267.5">__xsta..</text>
<rect x="810" y="241" width="9.00" height="15" rx="2" fill="#f08040"/>
<rect x="820" y="241" width="43.50" height="15" rx="2" fill="#fa4b1e"/>
<text x="823" y="251.5">trac..</text>
<rect x="810.5" y="225" width="8.50" height="15" rx="2" fill="#d8a020"/>
<rect x="820" y="225" width="31.00" height="15" rx="2" fill="#d85a14"/>
<text x="823" y="235.5">sy..</text>
<rect x="852" y="225" width="11.50" height="15" rx="2" fill="#f0e028"/>
<rect x="811.5" y="209" width="7.50" height="15" rx="2" fill="#f0a040"/>
<rect x="820" y="209" width="30.00" height="15" rx="2" fill="#e8d838"/>
<text x="823" y="219.5">SY..</text>
<rect x="851" y="209" width="12.50" height="15" rx="2" fill="#d8d030"/>
<rect x="811.5" y="193" width="7.00" height="15" rx="2" fill="#f08030"/>
<rect x="820" y="193" width="2.00" height="15" rx="2" fill="#f04020"/>
<rect x="822.5" y="193" width="2.50" height="15" rx="2" fill="#e08030"/>
<rect x="826" y="193" width="24.00" height="15" rx="2" fill="#dc7a0a"/>
<text x="829" y="203.5">v..</text>
<rect x="851" y="193" width="12.50" height="15" rx="2" fill="#d88040"/>
<rect x="822.5" y="177" width="1.00" height="15" rx="2" fill="#e04040"/>
<rect x="825" y="177" width="1.00" height="15" rx="2" fill="#e8d040"/>
<rect x="827" y="177" width="22.70" height="15" rx="2" fill="#dc3228"/>
<text x="830" y="187.5">u..</text>
<rect x="822" y="161" width="1.00" height="15" rx="2" fill="#e8d040"/>
<rect x="827.5" y="161" width="21.50" height="15" rx="2" fill="#d24614"/>
<rect x="826.5" y="145" width="1.50" height="15" rx="2" fill="#f0b040"/>
<rect x="829" y="145" width="12.00" height="15" rx="2" fill="#f5a01e"/>
<rect x="842" y="145" width="4.50" height="15" rx="2" fill="#d8b030"/>
<rect x="847" y="145" width="2.00" height="15" rx="2" fill="#f08030"/>
<rect x="829" y="129" width="1.00" height="15" rx="2" fill="#f0b040"/>
<rect x="830" y="129" width="11.00" height="15" rx="2" fill="#d24614"/>
<rect x="842" y="129" width="3.50" height="15" rx="2" fill="#e8a020"/>
<rect x="846" y="129" width="1.00" height="15" rx="2" fill="#f0a0a0"/>
<rect x="847.5" y="129" width="1.50" height="15" rx="2" fill="#e8c030"/>
<rect x="831" y="113" width="2.50" height="15" rx="2" fill="#f04020"/>
<rect x="834" y="113" width="5.00" height="15" rx="2" fill="#e07038"/>
<rect x="839" y="113" width="2.00" height="15" rx="2" fill="#e8a040"/>
<rect x="847" y="113" width="1.00" height="15" rx="2" fill="#e8d030"/>
<rect x="850" y="113" width="1.00" height="15" rx="2" fill="#f0c0a0"/>
<rect x="830" y="97" width="1.00" height="15" rx="2" fill="#e8a060"/>
<rect x="834" y="97" width="5.00" height="15" rx="2" fill="#e8c018"/>
<rect x="834.8" y="81" width="4.20" height="15" rx="2" fill="#e0d018"/>
<rect x="834.8" y="65" width="3.90" height="15" rx="2" fill="#e85814"/>
<rect x="837" y="49" width="1.70" height="15" rx="2" fill="#e84040"/>
<rect x="837" y="33" width="1.30" height="15" rx="2" fill="#e8c070"/>
<rect x="873.5" y="321" width="2.50" height="15" rx="2" fill="#f08030"/>
<rect x="878" y="321" width="0.80" height="15" rx="2" fill="#f0a0a0"/>
<rect x="879" y="321" width="7.50" height="15" rx="2" fill="#dcdc14"/>
<rect x="887" y="321" width="1.50" height="15" rx="2" fill="#e02030"/>
<rect x="900" y="321" width="2.00" height="15" rx="2" fill="#d81828"/>
<rect x="902.5" y="321" width="3.50" height="15" rx="2" fill="#f0b020"/>
<rect x="908" y="321" width="4.00" height="15" rx="2" fill="#d8a030"/>
<rect x="919" y="321" width="3.50" height="15" rx="2" fill="#f0b020"/>
<rect x="931" y="321" width="8.50" height="15" rx="2" fill="#f88020"/>
<rect x="958" y="321" width="4.00" height="15" rx="2" fill="#f02828"/>
<rect x="962.5" y="321" width="3.50" height="15" rx="2" fill="#f04848"/>
<rect x="967" y="321" width="6.50" height="15" rx="2" fill="#f85010"/>
<rect x="974" y="321" width="2.00" height="15" rx="2" fill="#d8c040"/>
<rect x="977" y="321" width="56.00" height="15" rx="2" fill="#cc9a28"/>
<text x="980" y="331.5">expan..</text>
<rect x="879" y="305" width="8.00" height="15" rx="2" fill="#d85830"/>
<rect x="902.5" y="305" width="3.50" height="15" rx="2" fill="#e06030"/>
<rect x="908" y="305" width="4.00" height="15" rx="2" fill="#e07040"/>
<rect x="935.5" y="305" width="4.00" height="15" rx="2" fill="#d8c828"/>
<rect x="967" y="305" width="5.50" height="15" rx="2" fill="#e8a020"/>
<rect x="973" y="305" width="1.00" height="15" rx="2" fill="#e07050"/>
<rect x="975" y="305" width="1.00" height="15" rx="2" fill="#f0a040"/>
<rect x="996.5" y="305" width="2.50" height="15" rx="2" fill="#e04040"/>
<rect x="881.5" y="289" width="5.50" height="15" rx="2" fill="#f01c1c"/>
<rect x="902.5" y="289" width="3.50" height="15" rx="2" fill="#e81028"/>
<rect x="936" y="289" width="3.50" height="15" rx="2" fill="#e82020"/>
<rect x="970.5" y="289" width="2.00" height="15" rx="2" fill="#f0b090"/>
<rect x="974.5" y="289" width="1.00" height="15" rx="2" fill="#e8c040"/>
<rect x="882" y="273" width="5.00" height="15" rx="2" fill="#e89020"/>
<rect x="936" y="273" width="3.50" height="15" rx="2" fill="#c81c10"/>
<rect x="971" y="273" width="1.50" height="15" rx="2" fill="#f0b090"/>
<rect x="974.5" y="273" width="1.00" height="15" rx="2" fill="#e8d040"/>
<rect x="971.5" y="257" width="1.00" height="15" rx="2" fill="#e8d070"/>
<rect x="1034" y="321" width="10.00" height="15" rx="2" fill="#e8a030"/>
<rect x="1045" y="321" width="3.00" height="15" rx="2" fill="#e08040"/>
<rect x="1049.5" y="321" width="5.50" height="15" rx="2" fill="#e8c840"/>
<rect x="1055.5" y="321" width="15.00" height="15" rx="2" fill="#f5af1e"/>
<rect x="1071.5" y="321" width="12.00" height="15" rx="2" fill="#ebe114"/>
<rect x="1085" y="321" width="13.50" height="15" rx="2" fill="#e04a28"/>
<rect x="1105" y="321" width="3.00" height="15" rx="2" fill="#f07020"/>
<rect x="1127" y="321" width="2.00" height="15" rx="2" fill="#e03030"/>
<rect x="1140" y="321" width="3.50" height="15" rx="2" fill="#f0a030"/>
<rect x="1148.5" y="321" width="3.50" height="15" rx="2" fill="#e8a040"/>
<rect x="1159" y="321" width="2.00" height="15" rx="2" fill="#e8d030"/>
<rect x="996" y="305" width="3.00" height="15" rx="2" fill="#f04030"/>
<rect x="1000" y="305" width="11.00" height="15" rx="2" fill="#eb9b32"/>
<rect x="1012" y="305" width="8.00" height="15" rx="2" fill="#e1d214"/>
<rect x="1021" y="305" width="13.00" height="15" rx="2" fill="#f0a03c"/>
<rect x="1035" y="305" width="3.00" height="15" rx="2" fill="#e08040"/>
<rect x="1039" y="305" width="4.00" height="15" rx="2" fill="#d87020"/>
<rect x="1046" y="305" width="2.00" height="15" rx="2" fill="#f0a080"/>
<rect x="1050" y="305" width="5.00" height="15" rx="2" fill="#d8d030"/>
<rect x="1060" y="305" width="10.50" height="15" rx="2" fill="#f5692d"/>
<rect x="1083" y="305" width="1.50" height="15" rx="2" fill="#e04040"/>
<rect x="1091" y="305" width="7.50" height="15" rx="2" fill="#d8c030"/>
<rect x="1140.5" y="305" width="3.50" height="15" rx="2" fill="#e8c040"/>
<rect x="1148.7" y="305" width="2.80" height="15" rx="2" fill="#d81838"/>
<rect x="1159" y="305" width="3.00" height="15" rx="2" fill="#e02030"/>
<rect x="1002" y="289" width="6.00" height="15" rx="2" fill="#f06820"/>
<rect x="1008.5" y="289" width="2.50" height="15" rx="2" fill="#e08050"/>
<rect x="1014" y="289" width="7.00" height="15" rx="2" fill="#f08020"/>
<rect x="1026.5" y="289" width="6.00" height="15" rx="2" fill="#dc1030"/>
<rect x="1038" y="289" width="5.00" height="15" rx="2" fill="#f0a040"/>
<rect x="1046" y="289" width="1.00" height="15" rx="2" fill="#f0b0a0"/>
<rect x="1050" y="289" width="5.00" height="15" rx="2" fill="#e03838"/>
<rect x="1060" y="289" width="10.50" height="15" rx="2" fill="#c81c14"/>
<rect x="1091" y="289" width="7.50" height="15" rx="2" fill="#d89040"/>
<rect x="1140.5" y="289" width="3.50" height="15" rx="2" fill="#e0b030"/>
<rect x="1002" y="273" width="6.00" height="15" rx="2" fill="#f06820"/>
<rect x="1008.5" y="273" width="2.50" height="15" rx="2" fill="#e08050"/>
<rect x="1014" y="273" width="7.00" height="15" rx="2" fill="#f55032"/>
<rect x="1027" y="273" width="5.50" height="15" rx="2" fill="#f0b020"/>
<rect x="1039" y="273" width="3.00" height="15" rx="2" fill="#e0b030"/>
<rect x="1047" y="273" width="1.00" height="15" rx="2" fill="#f0c0a0"/>
<rect x="1091" y="273" width="7.50" height="15" rx="2" fill="#e8a020"/>
<rect x="1142.5" y="273" width="1.50" height="15" rx="2" fill="#e04040"/>
<rect x="1002" y="257" width="6.00" height="15" rx="2" fill="#f07828"/>
<rect x="1008.5" y="257" width="1.50" height="15" rx="2" fill="#e08050"/>
<rect x="1027" y="257" width="5.50" height="15" rx="2" fill="#d07838"/>
<rect x="1002" y="241" width="6.00" height="15" rx="2" fill="#f08038"/>
<rect x="1008.5" y="241" width="1.50" height="15" rx="2" fill="#e09060"/>
<rect x="1003" y="225" width="5.00" height="15" rx="2" fill="#e0b040"/>
<rect x="1005" y="209" width="3.00" height="15" rx="2" fill="#f09080"/>
<rect x="1005" y="193" width="2.00" height="15" rx="2" fill="#e8d050"/>
</svg></body></html>
